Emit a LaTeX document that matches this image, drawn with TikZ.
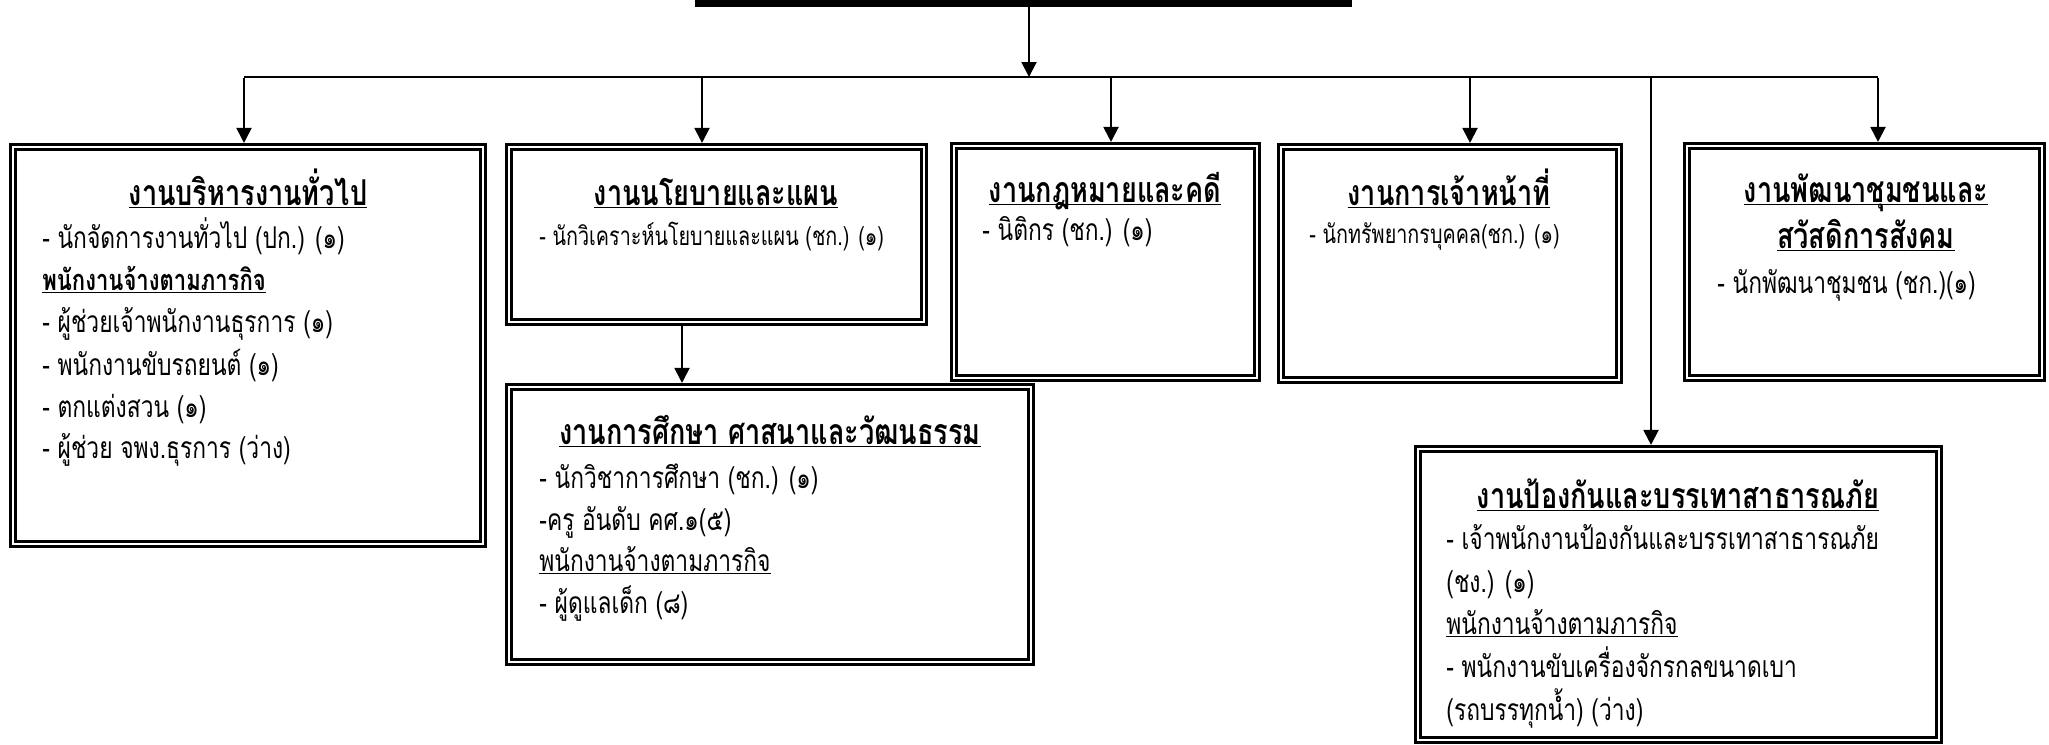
\documentclass[tikz,border=0pt]{standalone}
\usepackage{fontspec}
\setmainfont[Script=Thai, FakeStretch=0.76]{Loma}
\usetikzlibrary{arrows.meta}
\newcommand\thul[1]{\setbox0=\hbox{#1}\rlap{\rule[-1.6pt]{\wd0}{0.8pt}}\box0}
\tikzset{
  box/.style={draw, line width=1.3pt, double=white, double distance=1.2pt, fill=white, inner sep=0pt, outer sep=1.9pt},
  conn/.style={line width=1pt, -{Triangle[length=7.5pt,width=7.5pt]}},
  plain/.style={line width=1pt},
  ttl/.style={anchor=base, inner sep=0pt, font=\bfseries\fontsize{17.8}{20}\selectfont},
  sub/.style={anchor=base west, inner sep=0pt, font=\bfseries\fontsize{14.5}{17}\selectfont},
  bdy/.style={anchor=base west, inner sep=0pt, font=\fontsize{15}{17}\selectfont},
  sbdy/.style={anchor=base west, inner sep=0pt, font=\fontsize{13}{15}\selectfont},
}
\begin{document}
\begin{tikzpicture}[x=0.5pt, y=-0.5pt]
\useasboundingbox (0,0) rectangle (2049,744);
% top bar
\node[fill=black, minimum width=328.5pt, minimum height=3.5pt, inner sep=0pt, outer sep=0pt] (top) at (1023.5,3.5) {};
% boxes
\node[box, minimum width=235.25pt, minimum height=198.75pt] (b1) at (248,345.5) {};
\node[box, minimum width=207.75pt, minimum height=87.75pt] (b2) at (716.5,234.5) {};
\node[box, minimum width=151.75pt, minimum height=116.25pt] (b3) at (1105.5,262) {};
\node[box, minimum width=169.25pt, minimum height=116.75pt] (b4) at (1450,263.5) {};
\node[box, minimum width=177.75pt, minimum height=116.25pt] (b5) at (1864.5,262) {};
\node[box, minimum width=261.25pt, minimum height=137.75pt] (b6) at (770,524.5) {};
\node[box, minimum width=260.75pt, minimum height=145.75pt] (b7) at (1678.5,594.5) {};
% connectors
\coordinate (hc) at (1029,77);
\coordinate (hl) at (244,77);
\coordinate (hr) at (1878,77);
\draw[plain] (hl) -- (hr);
\draw[conn] (top.south -| hc) -- (hc);
\foreach \x/\b in {244/b1, 702/b2, 1111/b3, 1470/b4, 1878/b5, 1651/b7}{
  \coordinate (d) at (\x,78);
  \draw[conn] (d) -- (d |- \b.north);
}
\coordinate (d26) at (682,0);
\draw[conn] (d26 |- b2.south) -- (d26 |- b6.north);
% box 1
\node[ttl] (t1) at (248,205) {\thul{งานบริหารงานทั่วไป}};
\node[bdy] (t1a) at (42,248) {- นักจัดการงานทั่วไป (ปก.) (๑)};
\node[sub] (t1b) at (42,290) {\thul{พนักงานจ้างตามภารกิจ}};
\node[bdy] (t1c) at (42,332) {- ผู้ช่วยเจ้าพนักงานธุรการ (๑)};
\node[bdy] (t1d) at (42,375) {- พนักงานขับรถยนต์ (๑)};
\node[bdy] (t1e) at (42,417) {- ตกแต่งสวน (๑)};
\node[bdy] (t1f) at (42,458) {- ผู้ช่วย จพง.ธุรการ (ว่าง)};
% box 2
\node[ttl] (t2) at (716,205) {\thul{งานนโยบายและแผน}};
\node[sbdy] (t2a) at (539,245) {- นักวิเคราะห์นโยบายและแผน (ชก.) (๑)};
% box 3
\node[ttl] (t3) at (1105,202) {\thul{งานกฎหมายและคดี}};
\node[bdy] (t3a) at (982,240) {- นิติกร (ชก.) (๑)};
% box 4
\node[ttl] (t4) at (1449,205) {\thul{งานการเจ้าหน้าที่}};
\node[sbdy] (t4a) at (1309,243) {- นักทรัพยากรบุคคล(ชก.) (๑)};
% box 5
\node[ttl] (t5) at (1866,202) {\thul{งานพัฒนาชุมชนและ}};
\node[ttl] (t5b) at (1866,248) {\thul{สวัสดิการสังคม}};
\node[bdy] (t5a) at (1717,293) {- นักพัฒนาชุมชน (ชก.)(๑)};
% box 6
\node[ttl] (t6) at (770,444) {\thul{งานการศึกษา ศาสนาและวัฒนธรรม}};
\node[bdy] (t6a) at (539,488) {- นักวิชาการศึกษา (ชก.) (๑)};
\node[bdy] (t6b) at (539,530) {-ครู อันดับ คศ.๑(๕)};
\node[bdy] (t6c) at (539,571) {\thul{พนักงานจ้างตามภารกิจ}};
\node[bdy] (t6d) at (539,613) {- ผู้ดูแลเด็ก (๘)};
% box 7
\node[ttl] (t7) at (1678,508) {\thul{งานป้องกันและบรรเทาสาธารณภัย}};
\node[bdy] (t7a) at (1446,549) {- เจ้าพนักงานป้องกันและบรรเทาสาธารณภัย};
\node[bdy] (t7b) at (1446,592) {(ชง.) (๑)};
\node[bdy] (t7c) at (1446,634) {\thul{พนักงานจ้างตามภารกิจ}};
\node[bdy] (t7d) at (1446,677) {- พนักงานขับเครื่องจักรกลขนาดเบา};
\node[bdy] (t7e) at (1446,720) {(รถบรรทุกน้ำ) (ว่าง)};
\end{tikzpicture}
\end{document}
